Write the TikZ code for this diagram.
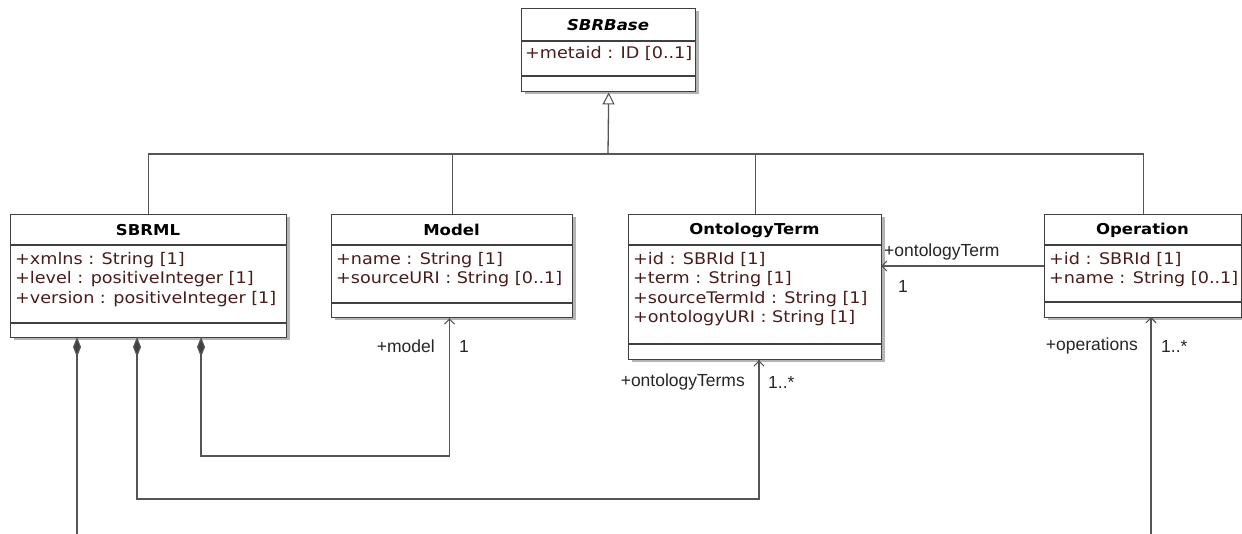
\documentclass[tikz,border=0pt]{standalone}
\usepackage{fontspec}
\usetikzlibrary{arrows.meta}
\newfontfamily\umlfont[FakeStretch=1.1]{DejaVu Sans}
\newfontfamily\lblfont{Liberation Sans}
\definecolor{attrcol}{HTML}{4A1C1C}
\definecolor{linecol}{HTML}{555555}
\definecolor{boxcol}{HTML}{404040}
\definecolor{shadowcol}{HTML}{B4B4B4}
\tikzset{
  classbox/.style={draw=boxcol, line width=1.4pt, fill=white, inner sep=0pt, anchor=north west},
  comp/.style={draw=boxcol, line width=1.3pt},
  title/.style={font=\umlfont\bfseries\fontsize{15}{17}\selectfont, inner sep=0pt},
  attrs/.style={font=\umlfont\fontsize{16}{19.5}\selectfont, text=attrcol, align=left, anchor=north west, inner sep=0pt},
  conn/.style={draw=linecol, line width=1.3pt},
  assoc/.style={conn, -{Straight Barb[length=5,width=10,line width=1.1pt]}},
  lbl/.style={font=\lblfont\fontsize{17.5}{19}\selectfont, inner sep=0pt, text=black!85},
}
% \UMLclass{name}{x1}{y1}{x2}{y2}{yheader}{yattr}
\newcommand\UMLclass[7]{%
  \fill[shadowcol] (#2+3.5,#3+3.5) rectangle (#4+3.5,#5+3.5);
  \pgfmathsetmacro\bw{#4-#2}\pgfmathsetmacro\bh{#5-#3}%
  \node[classbox, minimum width=\bw pt, minimum height=\bh pt] (#1) at (#2,#3) {};
  \draw[comp] (#2,#6) -- (#4,#6);
  \draw[comp] (#2,#7) -- (#4,#7);
}
\begin{document}
\begin{tikzpicture}[x=1pt,y=-1pt]
\useasboundingbox (0,0) rectangle (1242,534);
\fill[white] (0,0) rectangle (1242,534);

% classes
\UMLclass{sbrbase}{521}{8}{695}{91}{41}{76}
\node[title, font=\umlfont\bfseries\itshape\fontsize{15}{17}\selectfont] (t0) at (608,25) {SBRBase};
\node[attrs] (a0) at (525,46) {+metaid : ID [0..1]};

\UMLclass{sbrml}{10}{214}{286}{337}{245}{323}
\node[title] (t1) at (148,230) {SBRML};
\node[attrs] (a1) at (15,252) {+xmlns : String [1]\\+level : positiveInteger [1]\\+version : positiveInteger [1]};

\UMLclass{model}{331}{214}{572}{317}{245}{303}
\node[title] (t2) at (451.5,230) {Model};
\node[attrs] (a2) at (336,252) {+name : String [1]\\+sourceURI : String [0..1]};

\UMLclass{ont}{628}{214}{881}{359}{245}{344}
\node[title] (t3) at (754.5,230) {OntologyTerm};
\node[attrs] (a3) at (633,252) {+id : SBRId [1]\\+term : String [1]\\+sourceTermId : String [1]\\+ontologyURI : String [1]};

\UMLclass{op}{1044}{214}{1241}{317}{245}{302}
\node[title] (t4) at (1142.5,230) {Operation};
\node[attrs] (a4) at (1049,252) {+id : SBRId [1]\\+name : String [0..1]};

% generalization
\coordinate (bus) at (608,154);
\draw[conn] (sbrml.north) |- (bus);
\draw[conn] (op.north) |- (bus);
\draw[conn] (model.north) -- (model.north |- bus);
\draw[conn] (ont.north) -- (ont.north |- bus);
\draw[conn, {Triangle[open,length=12,width=12,line width=1.1pt]}-] (sbrbase.south) -- (bus);

% compositions
\coordinate (c1) at (77,337);
\coordinate (c2) at (137,337);
\coordinate (c3) at (201,337);
\coordinate (bot1) at (77,534);
\coordinate (bot2) at (1151,534);
\coordinate (m1) at (449.5,456);
\coordinate (o1) at (759,499);
\draw[conn, {Diamond[length=20,width=8,fill=boxcol]}-] (c1) -- (bot1);
\draw[conn, {Diamond[length=20,width=8,fill=boxcol]}-] (c3) |- (m1) -- (m1 |- model.south);
\draw[conn, {Diamond[length=20,width=8,fill=boxcol]}-] (c2) |- (o1) -- (o1 |- ont.south);
\path (m1 |- model.south) coordinate (mend);
\path (o1 |- ont.south) coordinate (oend);
\draw[assoc] (m1) -- (mend);
\draw[assoc] (o1) -- (oend);
\coordinate (opb) at (1151,317);
\draw[assoc] (bot2) -- (opb);
\coordinate (opw) at (1044,266);
\coordinate (onte) at (881,266);
\draw[assoc] (opw) -- (onte);

% labels
\node[lbl, anchor=east] (l1) at (435,346) {+model};
\node[lbl, anchor=west] (l2) at (459,346) {1};
\node[lbl, anchor=east] (l3) at (745,382) {+ontologyTerms};
\node[lbl, anchor=west] (l4) at (768,382) {1..*};
\node[lbl, anchor=west] (l5) at (884,252) {+ontologyTerm};
\node[lbl] (l6) at (903,286) {1};
\node[lbl, anchor=east] (l7) at (1138,346) {+operations};
\node[lbl, anchor=west] (l8) at (1161,346) {1..*};
\end{tikzpicture}
\end{document}
